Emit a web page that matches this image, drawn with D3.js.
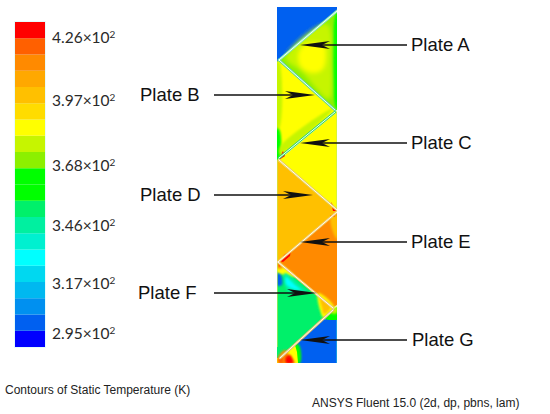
<!DOCTYPE html>
<html><head><meta charset="utf-8">
<script src="https://cdn.jsdelivr.net/npm/d3@7"></script>
<style>html,body{margin:0;padding:0;background:#fff}svg{display:block}</style>
</head><body><svg id="c" width="550" height="414"></svg>
<script>
// Legend: band colours from coolest to hottest, temperature in K
const bandColors = ["#0000ff","#0060f0","#0090f0","#00b8f0","#00d8f0","#00ffff","#00f0d0","#00f0a0","#00f06a","#00ff00","#00ff00","#8cf000","#c6f500","#ffff00","#ffdc00","#ffc000","#ffa800","#ff8a00","#ff6000","#ff0000"];
const bandEdges = d3.range(290, 431, 7);
const tickTexts = ["4.26","3.97","3.68","3.46","3.17","2.95"];
const tickAt = [423.5, 396.4, 368, 342.5, 317.5, 296];

// Channel geometry in channel units (x across 0-60, y down 0-356)
const zones = [
 {t:300, p:[[0,0],[60,0],[60,60],[0,60]]},
 {t:370, p:[[60,4],[2,53],[58,103],[60,103]]},
 {t:363, b:1, p:[[59,6],[62,4],[62,103],[59,101]]},
 {t:377, b:3, p:[[50,17],[9,51],[24,64],[52,92],[55,60]]},
 {t:384, b:3, p:[[36,35],[47,38],[49,50],[46,62],[36,66],[24,60],[21,48],[26,39]]},
 {t:384, p:[[0,55],[2,53],[58,103],[60,105],[0,153]]},
 {t:377, b:1, p:[[-2,55],[2,55],[2,122],[-2,122]]},
 {t:363, b:1, p:[[-2,122],[2,122],[3,150],[-2,155]]},
 {t:377, b:1, p:[[3,147],[56,102],[50,104],[3,140]]},
 {t:384, p:[[60,105],[60,203],[2,153]]},
 {t:398, p:[[0,153],[60,203],[60,205],[0,255]]},
 {t:412, p:[[60,205],[60,298],[57,300],[1,255]]},
 {t:398, b:1, p:[[60,208],[60,232],[55,222],[54,210]]},
 {t:349, p:[[0,255],[57,300],[56,303],[2,351],[0,351]]},
 {t:384, b:1, p:[[0,256],[5,258],[18,270],[8,268],[0,266]]},
 {t:412, b:1, p:[[0,256],[4,257],[6,261],[0,261]]},
 {t:342, b:1, p:[[8,266],[23,278],[30,285],[12,285],[7,275]]},
 {t:328, b:1, p:[[9,270],[18,278],[24,283],[14,281],[9,277]]},
 {t:300, b:1, p:[[0,266],[4,268],[5,278],[1,279],[0,279]]},
 {t:384, b:1, p:[[41,286],[57,300],[47,311],[43,303]]},
 {t:398, b:1, p:[[43,291],[54,300],[47,307],[45,301]]},
 {t:363, p:[[56,303],[60,300],[60,313],[50,314],[47,311]]},
 {t:377, b:1, p:[[57,301],[60,299],[60,306],[54,306]]},
 {t:300, p:[[47,312],[52,313],[60,313],[60,356],[6,356],[3,352]]},
 {t:363, b:1, p:[[17,337],[22,338],[23,356],[17,356]]},
 {t:384, p:[[0,351],[3,351],[18,338],[20,345],[21,356],[0,356]]},
 {t:412, b:1, p:[[1,350],[8,343],[12,348],[18,356],[1,356]]},
 {t:426, b:1, p:[[9,350],[13,348],[16,356],[9,356]]},
 {t:419, b:1, p:[[2,351],[5,350],[6,356],[2,356]]},
 {t:426, p:[[6,144],[8,149],[2,153],[4,148]]},
 {t:426, p:[[54,195],[60,204],[56,204]]},
 {t:426, p:[[60,205],[57,210],[53,209]]},
 {t:426, p:[[14,243],[13,249],[6,255],[3,254],[7,248]]},
 {t:419, p:[[1,255],[5,258],[2,260]]}
];
const plates = [
 {name:"A", a:[60,4],  b:[2,53],   edge:"#80e8b8"},
 {name:"B", a:[2,53],  b:[58,103], edge:"#58d8a0"},
 {name:"C", a:[58,105],b:[2,151],  edge:"#30d870"},
 {name:"D", a:[2,153], b:[60,203], edge:"#e8d060"},
 {name:"E", a:[60,205],b:[1,255],  edge:"#f0c868"},
 {name:"F", a:[1,255], b:[56,301], edge:"#f0c868"},
 {name:"G", a:[56,303],b:[3,351],  edge:"#e0c070"}
];
const labels = ["Plate A","Plate B","Plate C","Plate D","Plate E","Plate F","Plate G"];
const labelX = [411,140,411,140,411,138,412];
const labelY = [45,95,143,195,242,293,340];
const arrowFrom = [407,214,407,214,407,214,407];
const arrowTip =  [300,315,300,313,300,317,300];
const footerLeft = "Contours of Static Temperature (K)";
const footerRight = "ANSYS Fluent 15.0 (2d, dp, pbns, lam)";

const svg = d3.select("#c");
const defs = svg.append("defs");
[[0,0.5],[1,1],[3,2.2]].forEach(([k,s])=>defs.append("filter").attr("id","soft"+k)
  .attr("x","-30%").attr("y","-30%").attr("width","160%").attr("height","160%")
  .append("feGaussianBlur").attr("stdDeviation",s));
defs.append("clipPath").attr("id","chan").append("rect").attr("x",277).attr("y",7).attr("width",60).attr("height",356);

const color = d3.scaleThreshold().domain(bandEdges.slice(1,-1)).range(bandColors);
const lx = d3.scaleLinear().domain([0,1]).range([15,45]);
const ly = d3.scaleLinear().domain([290,430]).range([347,22]);
const X = d3.scaleLinear().domain([0,60]).range([277,337]);
const Y = d3.scaleLinear().domain([0,356]).range([7,363]);

// Legend
svg.append("rect").attr("x",lx(0)-1).attr("y",ly(430)-1).attr("width",lx(1)-lx(0)+2).attr("height",ly(290)-ly(430)+2).attr("fill","#e6fbfb");
svg.append("g").selectAll("rect").data(bandColors).join("rect")
  .attr("x",lx(0)).attr("width",lx(1)-lx(0))
  .attr("y",(d,i)=>ly(bandEdges[i+1])).attr("height",(d,i)=>ly(bandEdges[i])-ly(bandEdges[i+1]))
  .attr("fill",d=>d);
const tk = svg.append("g").attr("font-family","Lato, sans-serif").attr("font-size",15.5).attr("fill","#2a2a2a");
tickTexts.forEach((s,i)=>{
  const t = tk.append("text").attr("x",52).attr("y",ly(tickAt[i])+5.5);
  t.append("tspan").text(s+"×10");
  t.append("tspan").attr("dy",-5).attr("font-size",10).text("2");
});

// Field
const poly = d3.line().x(d=>X(d[0])).y(d=>Y(d[1])).curve(d3.curveLinearClosed);
const smooth = d3.line().x(d=>X(d[0])).y(d=>Y(d[1])).curve(d3.curveCatmullRomClosed);
const field = svg.append("g").attr("clip-path","url(#chan)");
const fz = field.append("g").attr("filter","url(#soft0)");
fz.selectAll("path").data(zones).join("path")
  .attr("d",d=>d.b?smooth(d.p):poly(d.p))
  .attr("filter",d=>d.b?`url(#soft${d.b})`:null)
  .attr("fill",d=>color(d.t));
const wall = field.append("g");
wall.append("line").attr("x1",X(0.5)).attr("x2",X(0.5)).attr("y1",Y(154)).attr("y2",Y(340)).attr("stroke","#c8ee50").attr("stroke-width",1).attr("opacity",.6);
wall.append("line").attr("x1",X(59.5)).attr("x2",X(59.5)).attr("y1",Y(105)).attr("y2",Y(203)).attr("stroke","#c8ee50").attr("stroke-width",1).attr("opacity",.6);
wall.append("line").attr("x1",X(59.5)).attr("x2",X(59.5)).attr("y1",Y(313)).attr("y2",Y(356)).attr("stroke","#20b0e0").attr("stroke-width",1).attr("opacity",.7);
const pl = field.append("g");
pl.selectAll("line.e").data(plates).join("line").attr("class","e")
  .attr("x1",d=>X(d.a[0])).attr("y1",d=>Y(d.a[1])).attr("x2",d=>X(d.b[0])).attr("y2",d=>Y(d.b[1]))
  .attr("stroke",d=>d.edge).attr("stroke-width",2.6).attr("stroke-linecap","round");
pl.selectAll("line.w").data(plates).join("line").attr("class","w")
  .attr("x1",d=>X(d.a[0])).attr("y1",d=>Y(d.a[1])).attr("x2",d=>X(d.b[0])).attr("y2",d=>Y(d.b[1]))
  .attr("stroke","#fffdf0").attr("stroke-width",1).attr("stroke-linecap","round");

// Arrows and labels
const ag = svg.append("g");
labels.forEach((s,i)=>{
  const y = labelY[i], f = arrowFrom[i], tip = arrowTip[i], dir = f>tip?1:-1;
  ag.append("line").attr("x1",f).attr("x2",tip+dir*10).attr("y1",y).attr("y2",y).attr("stroke","#111").attr("stroke-width",1.4);
  ag.append("path").attr("fill","#111")
    .attr("d",d3.line()([[tip,y],[tip+dir*30,y-4],[tip+dir*22,y],[tip+dir*30,y+4]])+"Z");
  ag.append("text").attr("x",labelX[i]).attr("y",y+6).attr("font-family","Liberation Sans, Arial, sans-serif").attr("font-size",18.5).attr("fill","#111").text(s);
});

// Footer
svg.append("text").attr("x",5).attr("y",394).attr("font-family","Liberation Sans, Arial, sans-serif").attr("font-size",12).attr("fill","#222").text(footerLeft);
svg.append("text").attr("x",312).attr("y",407).attr("font-family","Liberation Sans, Arial, sans-serif").attr("font-size",12).attr("fill","#222").text(footerRight);
</script></body></html>
